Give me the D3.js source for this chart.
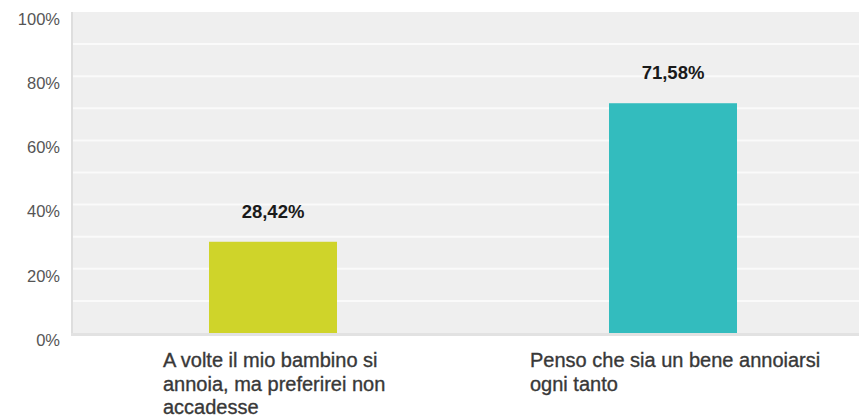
<!DOCTYPE html>
<html><head><meta charset="utf-8">
<script src="https://cdn.jsdelivr.net/npm/d3@7"></script>
<style>body{margin:0;background:#fff;}svg{display:block;font-family:"Liberation Sans",Arial,sans-serif;}</style>
</head><body>
<script>
const categories = [
  ["A volte il mio bambino si", "annoia, ma preferirei non", "accadesse"],
  ["Penso che sia un bene annoiarsi", "ogni tanto"]
];
const values = [28.42, 71.58];
const valueLabels = ["28,42%", "71,58%"];
const colors = ["#cfd42a", "#33bcbe"];
const tickValues = [0, 20, 40, 60, 80, 100];
const gridValues = [10, 20, 30, 40, 50, 60, 70, 80, 90];

(function () {
const W = 859, H = 415;
const svg = d3.select("body").append("svg").attr("width", W).attr("height", H);
const mLeft = 73, mRight = 873, mTop = 12, mBottom = 333;

const x = d3.scaleBand().domain(d3.range(values.length)).range([mLeft, mRight])
  .paddingInner(0.68).paddingOuter(0.34);
const y = d3.scaleLinear().domain([0, 100]).range([mBottom, mTop]);

// background
svg.append("rect").attr("x", mLeft).attr("y", y(100)).attr("width", mRight - mLeft)
  .attr("height", mBottom - y(100)).attr("fill", "#efefef");
// shadow left & bottom
svg.append("rect").attr("x", mLeft - 2).attr("y", y(100)).attr("width", 2)
  .attr("height", mBottom - y(100) + 3).attr("fill", "#dedede");
svg.append("rect").attr("x", mLeft - 2).attr("y", mBottom).attr("width", mRight - mLeft + 2)
  .attr("height", 3).attr("fill", "#e2e2e2");

// grid
svg.append("g").selectAll("line").data(gridValues).join("line")
  .attr("x1", mLeft).attr("x2", mRight)
  .attr("y1", d => y(d)).attr("y2", d => y(d))
  .attr("stroke", "#fafafa").attr("stroke-width", 2);

// y axis
const yAxis = d3.axisLeft(y).tickValues(tickValues).tickFormat(d => d + "%").tickSize(0).tickPadding(0);
const ga = svg.append("g").attr("transform", "translate(60,7)").call(yAxis);
ga.select(".domain").remove();
ga.selectAll("text").attr("font-size", 16.5).attr("fill", "#555").attr("font-family", "Liberation Sans, Arial, sans-serif");

// bars
svg.append("g").selectAll("rect").data(values).join("rect")
  .attr("x", (d, i) => x(i)).attr("width", x.bandwidth())
  .attr("y", d => y(d)).attr("height", d => mBottom - y(d))
  .attr("fill", (d, i) => colors[i]);

// value labels
svg.append("g").selectAll("text").data(values).join("text")
  .attr("x", (d, i) => x(i) + x.bandwidth() / 2)
  .attr("y", d => y(d) - 24)
  .attr("text-anchor", "middle").attr("font-weight", "bold")
  .attr("font-size", 18.5).attr("fill", "#1a1a1a")
  .text((d, i) => valueLabels[i]);

// category labels
const cg = svg.append("g").selectAll("text").data(categories).join("text")
  .attr("y", 367)
  .attr("font-size", 20).attr("fill", "#383838")
  .attr("stroke", "#383838").attr("stroke-width", 0.35);
cg.each(function (lines, i) {
  const t = d3.select(this);
  const x0 = i === 0 ? x(i) - 46 : x(i) - 79;
  t.attr("x", x0);
  lines.forEach((l, j) => {
    t.append("tspan").attr("x", x0).attr("dy", j === 0 ? 0 : 23.5).text(l);
  });
});
})();
</script>
</body></html>
